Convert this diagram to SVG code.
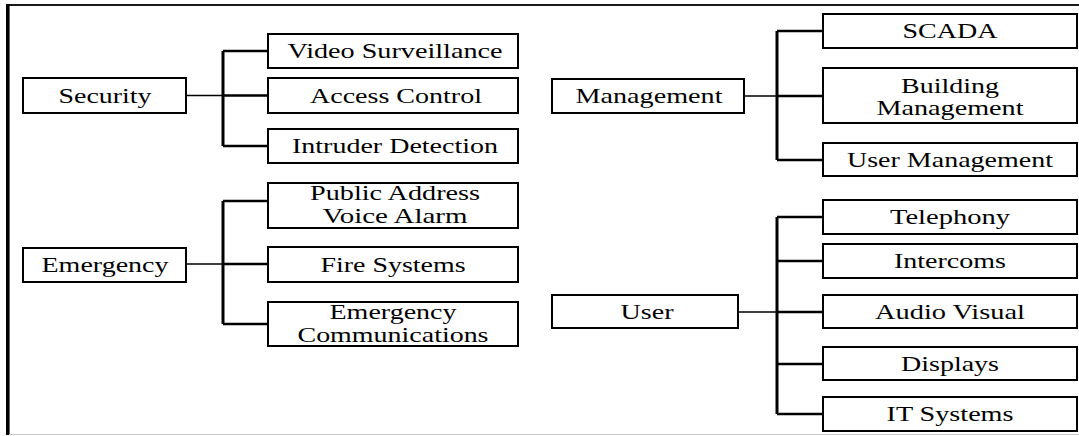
<svg xmlns="http://www.w3.org/2000/svg" width="1079" height="436" viewBox="0 0 1079 436">
  <style>
    .box { fill: #ffffff; stroke: #000000; stroke-width: 2; }
    .lbl { font-family: "Liberation Serif", "Times New Roman", serif; font-size: 21px; fill: #000000; text-anchor: middle; }
    .stem { fill: none; stroke: #000000; stroke-width: 1.6; }
    .trunk { fill: none; stroke: #000000; stroke-width: 3; }
    .twig { fill: none; stroke: #000000; stroke-width: 2.4; }
  </style>

  <!-- page frame -->
  <rect x="0" y="0" width="1079" height="436" fill="#ffffff"/>
  <line x1="6" y1="5" x2="1079" y2="5" stroke="#1a1a1a" stroke-width="2.2"/>
  <line x1="7.8" y1="4" x2="7.8" y2="435" stroke="#000000" stroke-width="3.6"/>
  <line x1="9" y1="434.5" x2="1079" y2="434.5" stroke="#c8c8c8" stroke-width="1.2"/>

  <!-- connectors -->
  <g id="connectors">
    <!-- Security -->
    <path class="stem" d="M186 95.5 H223"/>
    <path class="trunk" d="M223 51 V146"/>
    <path class="twig" d="M223 51 H268 M223 95.5 H268 M223 146 H268"/>
    <!-- Emergency -->
    <path class="stem" d="M186 264 H223"/>
    <path class="trunk" d="M223 201 V324"/>
    <path class="twig" d="M223 201 H268 M223 264 H268 M223 324 H268"/>
    <!-- Management -->
    <path class="stem" d="M744 96 H777"/>
    <path class="trunk" d="M777 31 V160"/>
    <path class="twig" d="M777 31 H823 M777 96 H823 M777 160 H823"/>
    <!-- User -->
    <path class="stem" d="M738 312 H777"/>
    <path class="trunk" d="M777 217 V414"/>
    <path class="twig" d="M777 217 H823 M777 261 H823 M777 312 H823 M777 364 H823 M777 414 H823"/>
  </g>

  <!-- Security branch -->
  <g id="security">
    <rect class="box" x="23" y="78" width="163" height="35"/>
    <text class="lbl" x="105" y="102.5" textLength="93" lengthAdjust="spacingAndGlyphs">Security</text>
  </g>
  <g id="video-surveillance">
    <rect class="box" x="268" y="34" width="250" height="34"/>
    <text class="lbl" x="395" y="58" textLength="215" lengthAdjust="spacingAndGlyphs">Video Surveillance</text>
  </g>
  <g id="access-control">
    <rect class="box" x="268" y="78" width="250" height="35"/>
    <text class="lbl" x="396" y="102.5" textLength="172" lengthAdjust="spacingAndGlyphs">Access Control</text>
  </g>
  <g id="intruder-detection">
    <rect class="box" x="268" y="129" width="250" height="34"/>
    <text class="lbl" x="395" y="153" textLength="206" lengthAdjust="spacingAndGlyphs">Intruder Detection</text>
  </g>

  <!-- Emergency branch -->
  <g id="emergency">
    <rect class="box" x="23" y="248" width="163" height="34"/>
    <text class="lbl" x="105" y="272" textLength="127" lengthAdjust="spacingAndGlyphs">Emergency</text>
  </g>
  <g id="public-address">
    <rect class="box" x="268" y="183" width="250" height="45"/>
    <text class="lbl" x="395" y="200" textLength="170" lengthAdjust="spacingAndGlyphs">Public Address</text>
    <text class="lbl" x="395" y="222.5" textLength="145" lengthAdjust="spacingAndGlyphs">Voice Alarm</text>
  </g>
  <g id="fire-systems">
    <rect class="box" x="268" y="247" width="250" height="35"/>
    <text class="lbl" x="393" y="271.5" textLength="145" lengthAdjust="spacingAndGlyphs">Fire Systems</text>
  </g>
  <g id="emergency-communications">
    <rect class="box" x="268" y="302" width="250" height="44"/>
    <text class="lbl" x="393" y="318.5" textLength="127" lengthAdjust="spacingAndGlyphs">Emergency</text>
    <text class="lbl" x="393" y="341.5" textLength="191" lengthAdjust="spacingAndGlyphs">Communications</text>
  </g>

  <!-- Management branch -->
  <g id="management">
    <rect class="box" x="552" y="79" width="192" height="34"/>
    <text class="lbl" x="649" y="103" textLength="147" lengthAdjust="spacingAndGlyphs">Management</text>
  </g>
  <g id="scada">
    <rect class="box" x="823" y="14" width="254" height="34"/>
    <text class="lbl" x="950" y="38" textLength="95" lengthAdjust="spacingAndGlyphs">SCADA</text>
  </g>
  <g id="building-management">
    <rect class="box" x="823" y="68" width="254" height="55"/>
    <text class="lbl" x="950" y="92.5" textLength="98" lengthAdjust="spacingAndGlyphs">Building</text>
    <text class="lbl" x="950" y="115" textLength="147" lengthAdjust="spacingAndGlyphs">Management</text>
  </g>
  <g id="user-management">
    <rect class="box" x="823" y="143" width="254" height="33"/>
    <text class="lbl" x="950" y="166.5" textLength="206" lengthAdjust="spacingAndGlyphs">User Management</text>
  </g>

  <!-- User branch -->
  <g id="user">
    <rect class="box" x="552" y="295" width="186" height="33"/>
    <text class="lbl" x="647" y="318.5" textLength="53" lengthAdjust="spacingAndGlyphs">User</text>
  </g>
  <g id="telephony">
    <rect class="box" x="823" y="200" width="254" height="34"/>
    <text class="lbl" x="950" y="224" textLength="120" lengthAdjust="spacingAndGlyphs">Telephony</text>
  </g>
  <g id="intercoms">
    <rect class="box" x="823" y="244" width="254" height="34"/>
    <text class="lbl" x="950" y="268" textLength="112" lengthAdjust="spacingAndGlyphs">Intercoms</text>
  </g>
  <g id="audio-visual">
    <rect class="box" x="823" y="295" width="254" height="33"/>
    <text class="lbl" x="950" y="318.5" textLength="150" lengthAdjust="spacingAndGlyphs">Audio Visual</text>
  </g>
  <g id="displays">
    <rect class="box" x="823" y="347" width="254" height="33"/>
    <text class="lbl" x="950" y="370.5" textLength="98" lengthAdjust="spacingAndGlyphs">Displays</text>
  </g>
  <g id="it-systems">
    <rect class="box" x="823" y="397" width="254" height="34"/>
    <text class="lbl" x="950" y="421" textLength="127" lengthAdjust="spacingAndGlyphs">IT Systems</text>
  </g>
</svg>
